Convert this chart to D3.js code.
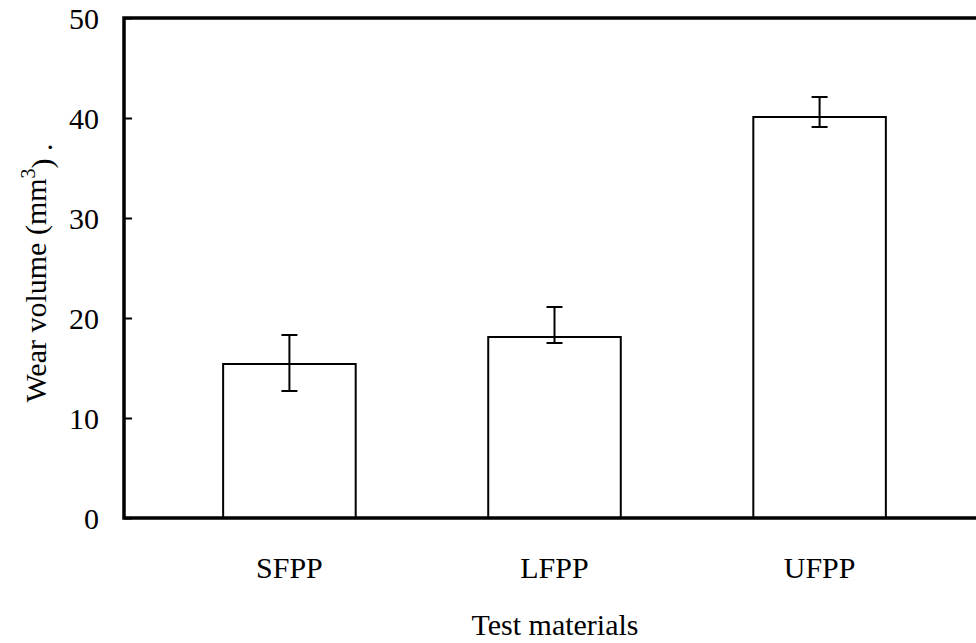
<!DOCTYPE html>
<html lang="en">
<head>
<meta charset="utf-8">
<title>Wear volume</title>
<script src="https://cdn.jsdelivr.net/npm/d3@7"></script>
<style>
  body { margin: 0; background: #fff; }
  text { font-family: "Liberation Serif", "Times New Roman", serif; fill: #000; }
</style>
</head>
<body>
<script>
// data
var materials = ["SFPP", "LFPP", "UFPP"];
var wearVolume = [15.4, 18.1, 40.1];
var errHigh = [18.3, 21.1, 42.1];
var errLow = [12.7, 17.5, 39.1];
var yTicks = [0, 10, 20, 30, 40, 50];

var width = 976, height = 643;
var margin = { left: 124, top: 18, right: -9, bottom: 125 };
var fs = "30px";

var svg = d3.select("body").append("svg")
    .attr("width", width)
    .attr("height", height);

var x = d3.scaleBand()
    .domain(materials)
    .range([margin.left, width - margin.right])
    .paddingInner(0.5)
    .paddingOuter(0.374);

var y = d3.scaleLinear()
    .domain([0, 50])
    .range([height - margin.bottom, margin.top]);

// bars
svg.selectAll("rect.bar")
    .data(materials)
    .enter().append("rect")
    .attr("class", "bar")
    .attr("x", function (d) { return x(d); })
    .attr("y", function (d, i) { return y(wearVolume[i]); })
    .attr("width", x.bandwidth())
    .attr("height", function (d, i) { return y(0) - y(wearVolume[i]); })
    .attr("fill", "#fff")
    .attr("stroke", "#000")
    .attr("stroke-width", 2);

// error bars
var capW = 8;
var eb = svg.selectAll("g.err")
    .data(materials)
    .enter().append("g")
    .attr("class", "err")
    .attr("stroke", "#000")
    .attr("stroke-width", 2);
eb.append("line")
    .attr("x1", function (d) { return x(d) + x.bandwidth() / 2; })
    .attr("x2", function (d) { return x(d) + x.bandwidth() / 2; })
    .attr("y1", function (d, i) { return y(errHigh[i]); })
    .attr("y2", function (d, i) { return y(errLow[i]); });
eb.append("line")
    .attr("x1", function (d) { return x(d) + x.bandwidth() / 2 - capW; })
    .attr("x2", function (d) { return x(d) + x.bandwidth() / 2 + capW; })
    .attr("y1", function (d, i) { return y(errHigh[i]); })
    .attr("y2", function (d, i) { return y(errHigh[i]); });
eb.append("line")
    .attr("x1", function (d) { return x(d) + x.bandwidth() / 2 - capW; })
    .attr("x2", function (d) { return x(d) + x.bandwidth() / 2 + capW; })
    .attr("y1", function (d, i) { return y(errLow[i]); })
    .attr("y2", function (d, i) { return y(errLow[i]); });

// y axis with inward ticks
var yAxis = svg.append("g")
    .attr("transform", "translate(" + margin.left + ",0)")
    .call(d3.axisRight(y).tickValues(yTicks).tickSize(8).tickFormat(""));
yAxis.select(".domain").remove();
yAxis.selectAll(".tick line").attr("stroke", "#000").attr("stroke-width", 2);

svg.selectAll("text.ylab")
    .data(yTicks)
    .enter().append("text")
    .attr("class", "ylab")
    .attr("x", 99)
    .attr("y", function (d) { return y(d); })
    .attr("dy", "0.35em")
    .attr("text-anchor", "end")
    .style("font-size", fs)
    .text(function (d) { return d; });

// frame: left, top, bottom (right side is past the edge)
var x0 = margin.left, x1 = width - margin.right;
svg.append("path")
    .attr("d", "M" + x1 + "," + y(50) + "H" + x0 + "V" + y(0) + "H" + x1)
    .attr("fill", "none")
    .attr("stroke", "#000")
    .attr("stroke-width", 3.5);

// category labels
svg.selectAll("text.xlab")
    .data(materials)
    .enter().append("text")
    .attr("class", "xlab")
    .attr("x", function (d) { return x(d) + x.bandwidth() / 2; })
    .attr("y", 578)
    .attr("text-anchor", "middle")
    .style("font-size", fs)
    .text(function (d) { return d; });

// axis titles
svg.append("text")
    .attr("x", 555)
    .attr("y", 635)
    .attr("text-anchor", "middle")
    .style("font-size", fs)
    .text("Test materials");

var yt = svg.append("text")
    .attr("transform", "translate(46,273) rotate(-90)")
    .attr("text-anchor", "middle")
    .style("font-size", fs);
yt.append("tspan").text("Wear volume (mm");
yt.append("tspan").attr("dy", "-0.55em").style("font-size", "20px").text("3");
yt.append("tspan").attr("dy", "0.55em").text(") .");
</script>
</body>
</html>
